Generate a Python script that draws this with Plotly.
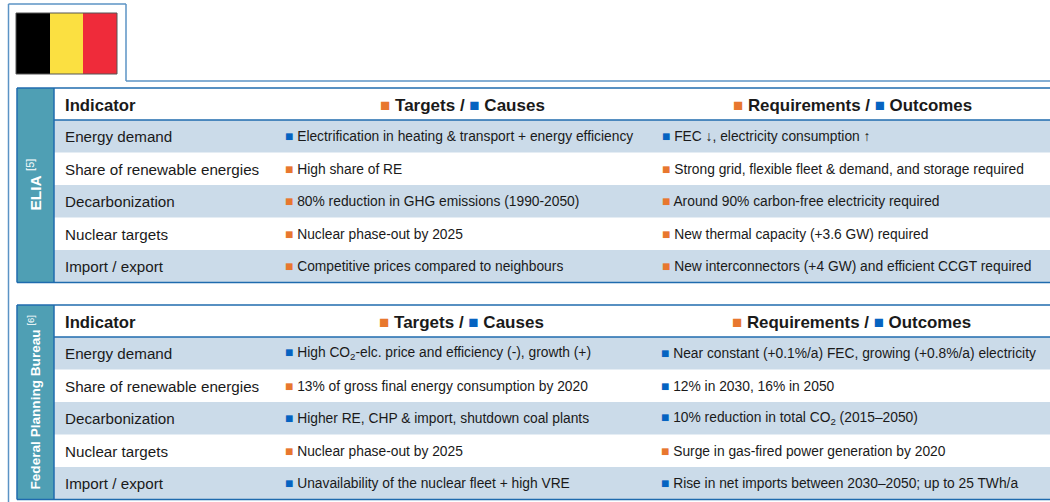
import plotly.graph_objects as go

ORANGE = "#E8772E"
BLUE = "#0563C1"
LINE = "#1F6BAE"
FRAME = "#5B93C5"
TEAL = "#4F9FB4"
BAND = "#CBDBE9"
TXT = "#1a1a1a"
FONT = "Liberation Sans, Arial, sans-serif"

indicators = ["Energy demand", "Share of renewable energies", "Decarbonization",
              "Nuclear targets", "Import / export"]
elia_kinds_a = ["c", "t", "t", "t", "t"]
elia_col_a = ["Electrification in heating & transport + energy efficiency",
              "High share of RE",
              "80% reduction in GHG emissions (1990-2050)",
              "Nuclear phase-out by 2025",
              "Competitive prices compared to neighbours"]
elia_kinds_b = ["c", "t", "t", "t", "t"]
elia_col_b = ["FEC ↓, electricity consumption ↑",
              "Strong grid, flexible fleet & demand, and storage required",
              "Around 90% carbon-free electricity required",
              "New thermal capacity (+3.6 GW) required",
              "New interconnectors (+4 GW) and efficient CCGT required"]
fpb_kinds_a = ["c", "t", "c", "t", "c"]
fpb_col_a = ["High CO<sub>2</sub>-elc. price and efficiency (-), growth (+)",
             "13% of gross final energy consumption by 2020",
             "Higher RE, CHP & import, shutdown coal plants",
             "Nuclear phase-out by 2025",
             "Unavailability of the nuclear fleet + high VRE"]
fpb_kinds_b = ["c", "c", "c", "t", "c"]
fpb_col_b = ["Near constant (+0.1%/a) FEC, growing (+0.8%/a) electricity",
             "12% in 2030, 16% in 2050",
             "10% reduction in total CO<sub>2</sub> (2015–2050)",
             "Surge in gas-fired power generation by 2020",
             "Rise in net imports between 2030–2050; up to 25 TWh/a"]

W, H = 1050, 502
shapes, annos = [], []


def rect(x0, y0, x1, y1, fill, line=None, lw=0):
    shapes.append(dict(type="rect", x0=x0, y0=y0, x1=x1, y1=y1, fillcolor=fill,
                       line=dict(color=line or fill, width=lw), layer="below"))


def seg(x0, y0, x1, y1, color, lw):
    shapes.append(dict(type="line", x0=x0, y0=y0, x1=x1, y1=y1,
                       line=dict(color=color, width=lw)))


def text(x, y, s, size, anchor="left", color=TXT, angle=0):
    annos.append(dict(x=x, y=y, text=s, showarrow=False, xanchor=anchor, yanchor="middle",
                      textangle=angle, align="left",
                      font=dict(family=FONT, size=size, color=color)))


def sq(color):
    return f"<span style='color:{color}'>■</span>"


def kind(k):
    return ORANGE if k == "t" else BLUE


def table(top, x_mid_a, x_mid_b, xa, xb, ka, a, kb, b, side_center, side, side_size):
    header_h, row_h = 32, 32.5
    hdr = top + header_h
    bottom = hdr + row_h * 5
    for i in range(0, 5, 2):
        rect(54, hdr + i * row_h, W, hdr + (i + 1) * row_h, BAND)
    rect(17, top, 54, bottom, TEAL)
    seg(17, top, W, top, LINE, 1.5)
    seg(54, hdr, W, hdr, LINE, 1.5)
    seg(17, bottom, W, bottom, LINE, 1.5)
    seg(17, top, 17, bottom, LINE, 1.5)
    seg(54, top, 54, bottom, LINE, 1.5)
    text(63, top + header_h / 2 + 1, "<b>Indicator</b>", 16.7)
    text(x_mid_a, top + header_h / 2 + 1,
         f"{sq(ORANGE)} <b>Targets /</b> {sq(BLUE)} <b>Causes</b>", 17, "center")
    text(x_mid_b, top + header_h / 2 + 1,
         f"{sq(ORANGE)} <b>Requirements /</b> {sq(BLUE)} <b>Outcomes</b>", 16.9, "center")
    for i, name in enumerate(indicators):
        y = hdr + (i + 0.5) * row_h + 0.5
        text(63, y, name, 15.2)
        text(xa, y, f"{sq(kind(ka[i]))} {a[i]}", 13.8)
        text(xb, y, f"{sq(kind(kb[i]))} {b[i]}", 13.8)
    text(34.5, side_center, side, side_size, "center", "white", -90)


# outer frame around the flag tab
seg(8.5, 4, 8.5, H, FRAME, 1.5)
seg(8.5, 4, 126, 4, FRAME, 1.5)
seg(126, 4, 126, 81, FRAME, 1.5)
seg(126, 81, W, 81, FRAME, 1.5)

# flag
rect(16, 13, 50, 74, "#000000")
rect(50, 13, 83, 74, "#FBE041")
rect(83, 13, 117, 74, "#EF2B3A")
shapes.append(dict(type="rect", x0=16, y0=13, x1=117, y1=74,
                   line=dict(color="#555555", width=1)))

table(88, 462, 852.5, 283, 660, elia_kinds_a, elia_col_a, elia_kinds_b, elia_col_b, 185,
      "<b>ELIA</b> <sup>[5]</sup>", 15.5)
table(305, 461, 851.5, 283, 659, fpb_kinds_a, fpb_col_a, fpb_kinds_b, fpb_col_b, 402,
      "<b>Federal Planning Bureau</b> <sup>[6]</sup>", 13.6)

fig = go.Figure()
fig.update_layout(
    width=W, height=H, margin=dict(l=0, r=0, t=0, b=0),
    paper_bgcolor="white", plot_bgcolor="white", showlegend=False,
    xaxis=dict(range=[0, W], visible=False, fixedrange=True),
    yaxis=dict(range=[H, 0], visible=False, fixedrange=True),
    shapes=shapes, annotations=annos,
)
fig.write_html("out.html", config={"displayModeBar": False},
               post_script="document.body.style.margin='0';document.body.style.overflow='hidden';")
